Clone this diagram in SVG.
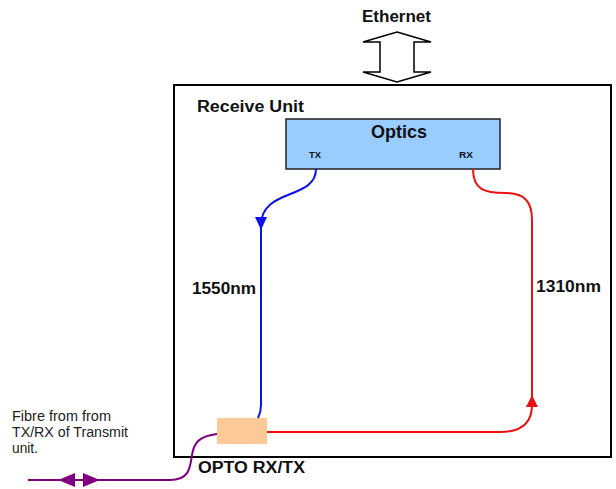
<svg xmlns="http://www.w3.org/2000/svg" width="616" height="489" viewBox="0 0 616 489">
<style>
.b{font-family:"Liberation Sans",Arial,sans-serif;font-weight:bold;fill:#111}
.r{font-family:"Liberation Sans",Arial,sans-serif;fill:#222}
.ln{fill:none;stroke-width:2}
</style>
<rect width="616" height="489" fill="#fff"/>
<g id="ethernet">
<text class="b" x="362" y="22" font-size="16.5" textLength="69" lengthAdjust="spacingAndGlyphs">Ethernet</text>
<polygon points="397,32 431,42 414,42 414,72 431,72 397,82 363,72 380,72 380,42 363,42" fill="#fff" stroke="#000" stroke-width="1.5"/>
</g>
<g id="receive-unit">
<rect x="174" y="85" width="437" height="372" fill="none" stroke="#000" stroke-width="2"/>
<text class="b" x="197" y="112" font-size="16" textLength="107" lengthAdjust="spacingAndGlyphs">Receive Unit</text>
</g>
<g id="optics">
<rect x="286" y="119" width="214" height="50" fill="#99ccff" stroke="#222" stroke-width="1.5"/>
<text class="b" x="371" y="138" font-size="18" textLength="56" lengthAdjust="spacingAndGlyphs">Optics</text>
<text class="b" x="309" y="158" font-size="9.5" textLength="12" lengthAdjust="spacingAndGlyphs">TX</text>
<text class="b" x="459" y="158" font-size="9.5" textLength="14" lengthAdjust="spacingAndGlyphs">RX</text>
</g>
<g id="opto">
<rect x="217" y="418" width="50" height="26" fill="#fcc997"/>
<text class="b" x="198" y="473" font-size="16" textLength="107" lengthAdjust="spacingAndGlyphs">OPTO RX/TX</text>
</g>
<g id="fibre-label">
<text class="r" x="12" y="421" font-size="14" textLength="99" lengthAdjust="spacingAndGlyphs">Fibre from from</text>
<text class="r" x="12" y="437" font-size="14" textLength="116" lengthAdjust="spacingAndGlyphs">TX/RX of Transmit</text>
<text class="r" x="12" y="453" font-size="14" textLength="26" lengthAdjust="spacingAndGlyphs">unit.</text>
</g>
<g id="connectors">
<path class="ln" stroke="#1010ee" d="M316,169 C316,200 261,188 261,225 L261,405 Q261,412 258,418"/>
<polygon points="255,217 267,217 261,230" fill="#1010ee"/>
<text class="b" x="192" y="294" font-size="17" textLength="64" lengthAdjust="spacingAndGlyphs">1550nm</text>
<path class="ln" stroke="#ee1111" d="M473,169 C473,190 485,193 505,193 C525,193 532,202 532,220 L532,405 C532,424 520,432 500,432 L267,432"/>
<polygon points="526,407 538,407 532,395" fill="#ee1111"/>
<text class="b" x="536" y="292" font-size="17" textLength="65" lengthAdjust="spacingAndGlyphs">1310nm</text>
<path class="ln" stroke="#800080" d="M217,434 C200,436 194,442 192,455 C190,470 188,480 170,480 L28,480"/>
<polygon points="58,480 75,473 75,487" fill="#800080"/>
<polygon points="100,480 83,473 83,487" fill="#800080"/>
</g>
</svg>
